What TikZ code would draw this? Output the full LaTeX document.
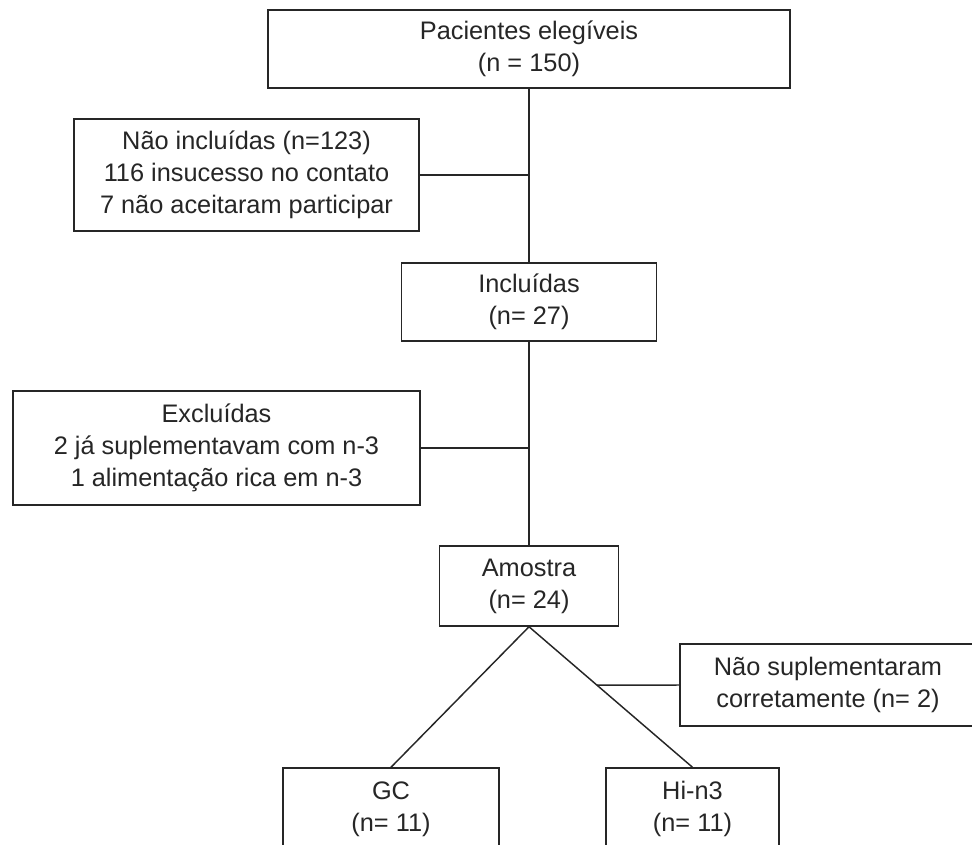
\documentclass[tikz,border=0pt]{standalone}
\usepackage{fontspec}
\setmainfont{Liberation Sans}
\usetikzlibrary{calc}
\begin{document}
\begin{tikzpicture}[x=0.75pt,y=-0.75pt,
  box/.style={draw=black!85, line width=1.1pt, fill=white, align=center, inner sep=0pt,
    font=\fontsize{19}{24}\selectfont, text=black!85},
  link/.style={draw=black!85, line width=1.1pt}]
\useasboundingbox (0,0) rectangle (972,844);
\clip (0,0) rectangle (972,844);
\node[box, minimum width=391.5pt, minimum height=58.5pt] (top) at (529,49) {Pacientes elegíveis\\(n = 150)};
\node[box, minimum width=258.75pt, minimum height=84pt] (naoinc) at (246.5,175) {Não incluídas (n=123)\\116 insucesso no contato\\7 não aceitaram participar};
\node[box, minimum width=191.25pt, minimum height=58.5pt] (inc) at (529,302) {Incluídas\\(n= 27)};
\node[box, minimum width=305.25pt, minimum height=85.5pt] (excl) at (216.5,448) {Excluídas\\2 já suplementavam com n-3\\1 alimentação rica em n-3};
\node[box, minimum width=134.25pt, minimum height=60pt] (amostra) at (529,586) {Amostra\\(n= 24)};
\node[box, minimum width=222pt, minimum height=61.5pt] (naosup) at (828,685) {Não suplementaram\\corretamente (n= 2)};
\node[box, minimum width=162pt, minimum height=61.5pt] (gc) at (391,809) {GC\\(n= 11)};
\node[box, minimum width=129.75pt, minimum height=61.5pt] (hin3) at (692.5,809) {Hi-n3\\(n= 11)};
\draw[link] (top.south) -- (inc.north);
\draw[link] (inc.south) -- (amostra.north);
\draw[link] (naoinc.east) -- (naoinc.east -| top.south);
\draw[link] (excl.east) -- (excl.east -| inc.south);
\draw[link] (amostra.south) -- (gc.north);
\draw[link] (amostra.south) -- (hin3.north);
\coordinate (d) at ($(amostra.south)!0.4155!(hin3.north)$);
\draw[link] (naosup.west) -- (d);
\end{tikzpicture}
\end{document}
